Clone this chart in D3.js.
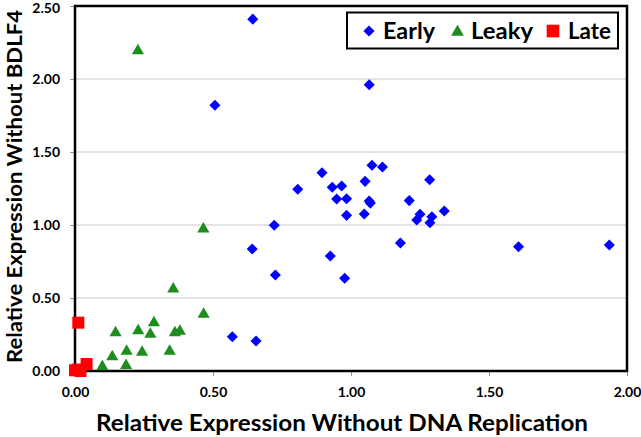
<!DOCTYPE html>
<html><head><meta charset="utf-8">
<script src="https://cdn.jsdelivr.net/npm/d3@7"></script>
<style>body{margin:0;background:#fff}svg{display:block}text{font-family:Lato,"Open Sans",sans-serif;font-weight:bold}</style>
</head><body>
<svg id="c" width="641" height="437"></svg>
<script>
const early = [[0.644,2.41],[0.507,1.82],[1.066,1.96],[0.807,1.245],[0.895,1.358],[0.932,1.258],[0.966,1.267],[0.948,1.178],[0.984,1.18],[0.984,1.066],[1.076,1.409],[1.114,1.397],[1.051,1.299],[1.066,1.164],[1.07,1.15],[1.048,1.075],[1.211,1.167],[1.285,1.31],[1.25,1.073],[1.238,1.034],[1.293,1.057],[1.286,1.016],[1.338,1.096],[1.179,0.877],[0.722,0.998],[0.925,0.788],[0.726,0.658],[0.977,0.635],[0.642,0.836],[0.57,0.235],[0.656,0.205],[1.607,0.851],[1.936,0.863]];
const leaky = [[0.228,2.194],[0.465,0.973],[0.356,0.562],[0.466,0.388],[0.147,0.262],[0.229,0.276],[0.286,0.331],[0.273,0.251],[0.362,0.262],[0.38,0.272],[0.135,0.098],[0.187,0.135],[0.243,0.128],[0.343,0.135],[0.099,0.03],[0.185,0.038]];
const late = [[0.012,0.331],[0.0,0.005],[0.01,0.01],[0.02,0.0],[0.042,0.048]];
const xTicks = [0,0.5,1,1.5,2];
const yTicks = [0,0.5,1,1.5,2,2.5];
const seriesNames = ["Early","Leaky","Late"];
const colors = {Early:"#0000FF",Leaky:"#1E8C1E",Late:"#FF0000"};

const svg = d3.select("#c");
const L=75,R=627,T=6,B=371;
const x = d3.scaleLinear().domain([0,2]).range([L,R]);
const y = d3.scaleLinear().domain([0,2.5]).range([B,T]);

svg.append("g").selectAll("line").data(yTicks.slice(1,-1)).join("line")
  .attr("x1",L).attr("x2",R).attr("y1",d=>y(d)).attr("y2",d=>y(d))
  .attr("stroke","#c8c8c8").attr("stroke-width",1);

const xa = svg.append("g").attr("transform",`translate(0,${B})`)
  .call(d3.axisBottom(x).tickValues(xTicks).tickFormat(d3.format(".2f")).tickSize(5).tickPadding(11));
const ya = svg.append("g").attr("transform",`translate(${L},0)`)
  .call(d3.axisLeft(y).tickValues(yTicks).tickFormat(d3.format(".2f")).tickSize(5).tickPadding(10));
[xa,ya].forEach(a=>{a.select(".domain").remove();a.selectAll("line").attr("stroke","#999");
  a.selectAll("text").attr("font-size",14).attr("fill","#000").style("font-family","Lato").style("font-weight","bold");});
ya.selectAll("text").filter(d=>d===2.5).attr("dy","0.45em");

svg.append("rect").attr("x",L).attr("y",T).attr("width",R-L).attr("height",B-T)
  .attr("fill","none").attr("stroke","#000").attr("stroke-width",2.5);

const sym = {Early:d3.symbol().type(d3.symbolDiamond2).size(78),
             Leaky:d3.symbol().type(d3.symbolTriangle).size(64),
             Late:d3.symbol().type(d3.symbolSquare).size(144)};
const data = {Early:early,Leaky:leaky,Late:late};
["Leaky","Early","Late"].forEach(k=>{
  svg.append("g").selectAll("path").data(data[k]).join("path")
    .attr("d",sym[k]()).attr("fill",colors[k])
    .attr("transform",d=>`translate(${x(d[0])},${y(d[1])})`);
});

const lg = svg.append("g");
lg.append("rect").attr("x",347).attr("y",12.5).attr("width",271).attr("height",36)
  .attr("fill","#fff").attr("stroke","#000").attr("stroke-width",2);
const lx = [369,457.5,553], tx=[383,471,568], tl=[52,62,43];
const lsym = {Early:d3.symbol().type(d3.symbolDiamond2).size(80),
              Leaky:d3.symbol().type(d3.symbolTriangle).size(70),
              Late:d3.symbol().type(d3.symbolSquare).size(160)};
seriesNames.forEach((n,i)=>{
  lg.append("path").attr("d",lsym[n]()).attr("fill",colors[n]).attr("transform",`translate(${lx[i]},${n==="Leaky"?32:31})`);
  lg.append("text").attr("x",tx[i]).attr("y",38.5).attr("font-size",23)
    .attr("textLength",tl[i]).attr("lengthAdjust","spacingAndGlyphs").text(n);
});

svg.append("text").attr("x",342).attr("y",431).attr("text-anchor","middle").attr("font-size",23)
  .attr("textLength",492).attr("lengthAdjust","spacingAndGlyphs").text("Relative Expression Without DNA Replication");
svg.append("text").attr("transform","translate(21.5,186.5) rotate(-90)").attr("text-anchor","middle").attr("font-size",21)
  .attr("textLength",353).attr("lengthAdjust","spacingAndGlyphs").text("Relative Expression Without BDLF4");
</script>
</body></html>
